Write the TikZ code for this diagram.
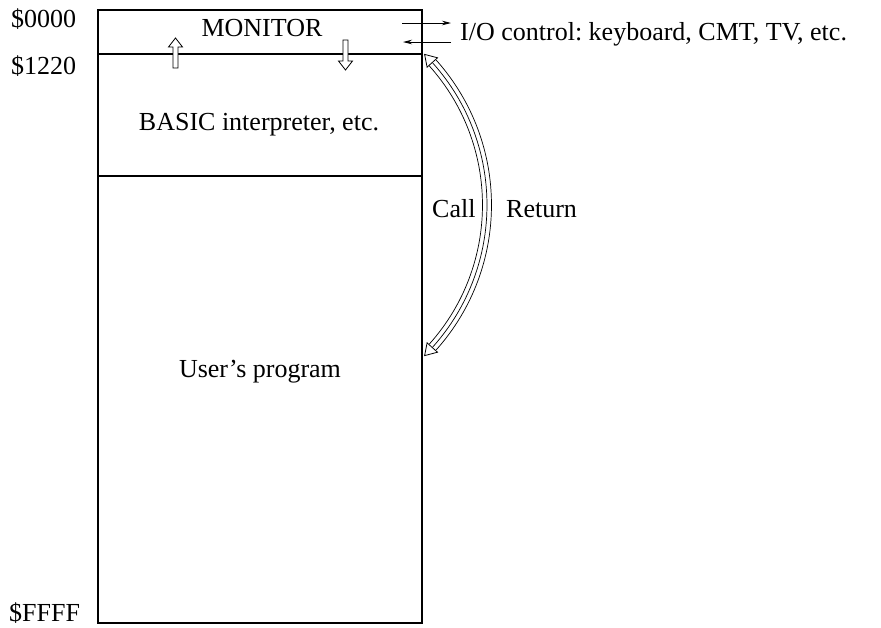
\documentclass[tikz,border=0pt]{standalone}
\usepackage{fontspec}
\setmainfont{Liberation Serif}
\usetikzlibrary{arrows.meta,calc}
\begin{document}
\begin{tikzpicture}[x=1pt,y=-1pt,
  lbl/.style={inner sep=0pt, font=\fontsize{26}{31}\selectfont, anchor=base},
  wall/.style={line width=1.2pt},
  blockarrow/.style={draw, fill=white, line width=0.8pt, line join=miter},
  io/.style={line width=0.8pt, -{Stealth[length=9pt,width=4.5pt]}},
  band/.style={line width=0.7pt},
  bandhead/.style={draw, fill=white, line width=0.8pt, line join=miter}]
\useasboundingbox (0,0) rectangle (881,627);

% memory map outline
\node[draw, wall, minimum width=324pt, minimum height=613pt, inner sep=0pt] (mem) at (260,316.5) {};
\coordinate (monL) at (98,54);   \coordinate (monR) at (422,54);
\coordinate (basL) at (98,176);  \coordinate (basR) at (422,176);
\draw[wall] (monL) -- (monR);
\draw[wall] (basL) -- (basR);

% address labels
\node[lbl, anchor=base west] (a0) at (11,27) {\$0000};
\node[lbl, anchor=base west] (a1) at (11,74) {\$1220};
\node[lbl, anchor=base west] (a2) at (9,621) {\$FFFF};

% region labels
\node[lbl] (mon) at (262,36) {MONITOR};
\node[lbl] (bas) at (259,130) {BASIC interpreter, etc.};
\node[lbl] (usr) at (260,377) {User's program};

% hollow arrows across the monitor boundary
\draw[blockarrow] (173,68) -- (173,47) -- (168.5,47) -- (175.5,38) -- (182.5,47) -- (178,47) -- (178,68) -- cycle;
\draw[blockarrow] (343,40) -- (343,61) -- (338.5,61) -- (345.5,70) -- (352.5,61) -- (348,61) -- (348,40) -- cycle;

% I/O arrows
\coordinate (outA) at (402,23);  \coordinate (outB) at (451,23);
\coordinate (inA)  at (451,42);  \coordinate (inB)  at (403,42);
\draw[io] (outA) -- (outB);
\draw[io] (inA) -- (inB);
\node[lbl, anchor=base west] (io) at (460,40) {I/O control:\ keyboard, CMT, TV, etc.};

% call / return band
\coordinate (C) at (274,205);
\foreach \r in {208.5,213,217.5}
  \draw[band] ($(C)+(-41.8:\r)$) arc[start angle=-41.8, end angle=41.8, radius=\r];
\draw[bandhead] ($(C)+(-45:213)$) -- ($(C)+(-42:206)$) -- ($(C)+(-42:220)$) -- cycle;
\draw[bandhead] ($(C)+(45:213)$) -- ($(C)+(42:206)$) -- ($(C)+(42:220)$) -- cycle;

\node[lbl, anchor=base west] (call) at (432,217) {Call};
\node[lbl, anchor=base west] (ret) at (506,217) {Return};
\end{tikzpicture}
\end{document}
